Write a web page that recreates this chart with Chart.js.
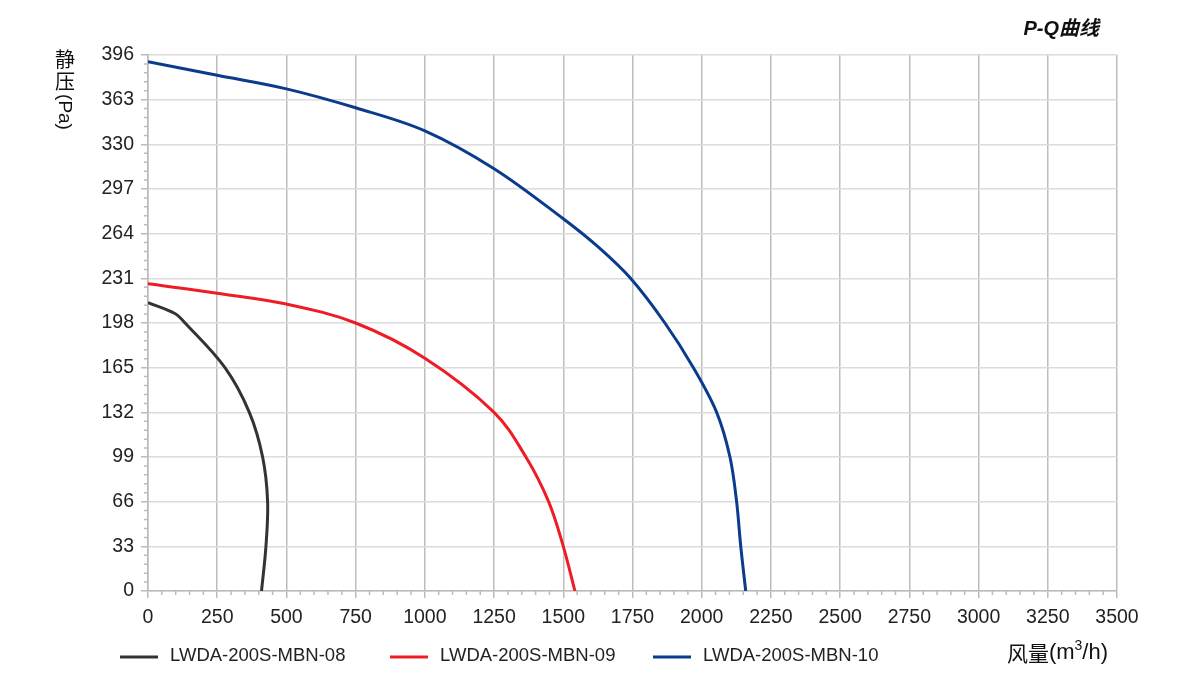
<!DOCTYPE html>
<html lang="zh">
<head>
<meta charset="UTF-8">
<title>P-Q曲线</title>
<script src="https://cdn.jsdelivr.net/npm/chart.js"></script>
<style>
  html, body { margin: 0; padding: 0; background: #fff; }
  .wrap { width: 1200px; height: 680px; }
</style>
</head>
<body>
<div class="wrap"><canvas id="pq" width="1200" height="680"></canvas></div>
<script>
// series names and colours
const seriesNames = ['LWDA-200S-MBN-08', 'LWDA-200S-MBN-09', 'LWDA-200S-MBN-10'];
const seriesColors = ['#333333', '#ee1c25', '#0b3b8c'];

// 风量 (m3/h) and 静压 (Pa)
const q08 = [0, 97, 134, 278, 366, 414, 432, 426, 410];
const p08 = [213, 205, 198, 165, 132, 99, 66, 33, 0];

const q09 = [0, 250, 500, 750, 1000, 1250, 1365, 1447, 1500, 1542];
const p09 = [227, 220, 212, 198, 172, 132, 99, 66, 33, 0];

const q10 = [0, 250, 500, 750, 1000, 1250, 1500, 1627, 1743, 1867, 1970, 2054, 2102, 2126, 2141, 2159];
const p10 = [391, 381, 371, 357, 340, 312, 275, 254, 231, 198, 165, 132, 99, 66, 33, 0];

// axis ranges
const xMax = 3500, xStep = 250, xMinor = 50;
const yMax = 396, yStep = 33, yMinor = 6.6;

const FONT = '"Liberation Sans", Arial, "Noto Sans CJK SC", sans-serif';
const CJK = '"Noto Sans CJK SC", sans-serif';

function toPoints(xs, ys) {
    return xs.map((x, i) => ({ x: x, y: ys[i] }));
}

// minor ticks, legend and the odd titles
const decor = {
    id: 'decor',
    afterDraw(chart) {
        const ctx = chart.ctx;
        const xs = chart.scales.x, ys = chart.scales.y;
        const area = chart.chartArea;
        ctx.save();

        // minor ticks
        ctx.strokeStyle = '#bbbbbb';
        ctx.lineWidth = 1.5;
        ctx.beginPath();
        for (let v = 0; v <= xMax + 0.01; v += xMinor) {
            if (Math.abs(v % xStep) < 0.01) continue;
            const px = xs.getPixelForValue(v);
            ctx.moveTo(px, area.bottom);
            ctx.lineTo(px, area.bottom + 4);
        }
        for (let i = 0; i <= yMax / yMinor + 0.01; i++) {
            if (i % 5 === 0) continue;
            const py = ys.getPixelForValue(i * yMinor);
            ctx.moveTo(area.left - 4, py);
            ctx.lineTo(area.left, py);
        }
        ctx.stroke();

        // legend
        const legendX = [120, 390, 653];
        const legendY = 657;
        ctx.font = '18.5px ' + FONT;
        ctx.textBaseline = 'middle';
        ctx.textAlign = 'left';
        chart.data.datasets.forEach((ds, i) => {
            ctx.strokeStyle = ds.borderColor;
            ctx.lineWidth = 3;
            ctx.beginPath();
            ctx.moveTo(legendX[i], legendY);
            ctx.lineTo(legendX[i] + 38, legendY);
            ctx.stroke();
            ctx.fillStyle = '#222';
            ctx.fillText(ds.label, legendX[i] + 50, legendY - 1);
        });

        // title
        ctx.fillStyle = '#111';
        ctx.font = 'italic bold 20px ' + FONT;
        ctx.textAlign = 'right';
        ctx.fillText('P-Q曲线', 1099, 29);

        // x title, built from pieces so the superscript sits right
        const parts = [
            { t: '风量', f: '21px ' + CJK, dy: 0 },
            { t: '(m', f: '22px ' + FONT, dy: 0 },
            { t: '3', f: '14px ' + FONT, dy: -7 },
            { t: '/h)', f: '22px ' + FONT, dy: 0 }
        ];
        let total = 0;
        parts.forEach(p => { ctx.font = p.f; p.w = ctx.measureText(p.t).width; total += p.w; });
        let cx = 1108 - total;
        ctx.textAlign = 'left';
        parts.forEach(p => {
            ctx.font = p.f;
            ctx.fillText(p.t, cx, 653 + p.dy);
            cx += p.w;
        });

        // y title: two upright chars then (Pa) turned
        ctx.textAlign = 'center';
        ctx.font = '20px ' + CJK;
        ctx.fillText('静', 65, 59);
        ctx.fillText('压', 65, 81);
        ctx.font = '19px ' + FONT;
        ctx.translate(64, 112);
        ctx.rotate(Math.PI / 2);
        ctx.fillText('(Pa)', 0, 0);

        ctx.restore();
    }
};

const tickFont = { size: 19.5, family: FONT };

const chart = new Chart(document.getElementById('pq'), {
    type: 'line',
    data: {
        datasets: [
            { label: seriesNames[0], data: toPoints(q08, p08), borderColor: seriesColors[0] },
            { label: seriesNames[1], data: toPoints(q09, p09), borderColor: seriesColors[1] },
            { label: seriesNames[2], data: toPoints(q10, p10), borderColor: seriesColors[2] }
        ].map(ds => Object.assign(ds, {
            borderWidth: 3,
            tension: 0.35,
            fill: false,
            pointRadius: 0,
            backgroundColor: ds.borderColor
        }))
    },
    options: {
        responsive: false,
        animation: false,
        layout: { padding: { top: 55, right: 83, left: 0, bottom: 0 } },
        plugins: { legend: { display: false }, tooltip: { enabled: false } },
        scales: {
            x: {
                type: 'linear',
                min: 0,
                max: xMax,
                ticks: { stepSize: xStep, padding: 8, color: '#222', font: tickFont, callback: v => String(v) },
                grid: { color: '#bdbdbd', lineWidth: 1.5, tickColor: '#bbbbbb', tickLength: 7 },
                border: { color: '#bbbbbb', width: 1.5 },
                afterFit(s) { s.height = 89; }
            },
            y: {
                type: 'linear',
                min: 0,
                max: yMax,
                ticks: { stepSize: yStep, padding: 7, color: '#222', font: tickFont, callback: v => String(v) },
                grid: { color: '#dcdcdc', lineWidth: 1.5, tickColor: '#bbbbbb', tickLength: 7 },
                border: { color: '#bbbbbb', width: 1.5 },
                afterFit(s) { s.width = 148; }
            }
        }
    },
    plugins: [decor]
});
</script>
</body>
</html>
